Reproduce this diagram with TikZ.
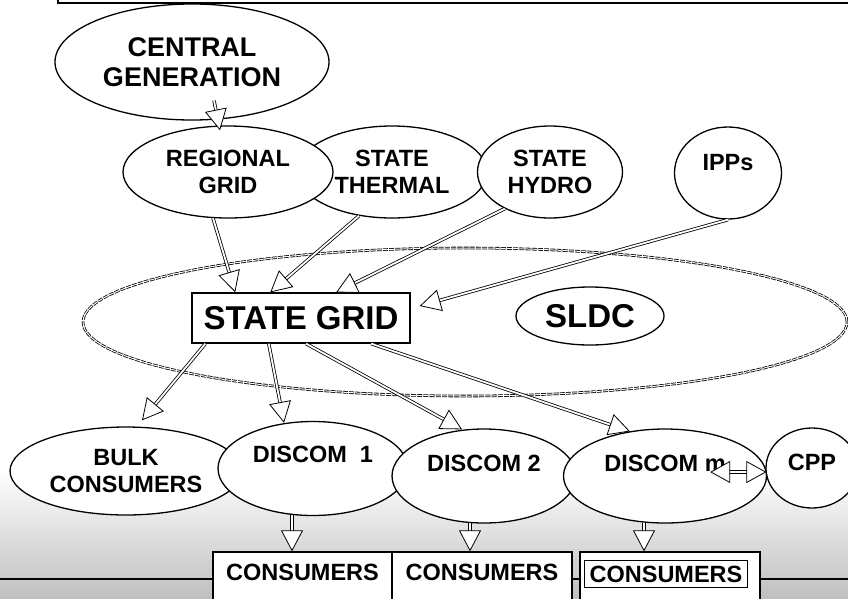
\documentclass[tikz,border=0pt]{standalone}
\usepackage{fontspec}
\setmainfont{Liberation Sans}
\usetikzlibrary{shapes.geometric, arrows.meta, calc}

\begin{document}
\begin{tikzpicture}[
    x=1pt, y=-1pt,
    bubble/.style={ellipse, draw=black, fill=white, line width=1.3pt, inner sep=0pt, align=center, font=\fontsize{23.5}{27}\selectfont\bfseries},
    bigbubble/.style={bubble, font=\fontsize{27}{30}\selectfont\bfseries},
    gridbox/.style={rectangle, draw=black, fill=white, line width=1.3pt, minimum width=218pt, minimum height=50pt, font=\fontsize{33}{38}\selectfont\bfseries},
    consbox/.style={rectangle, draw=black, fill=white, line width=1.3pt, minimum height=52pt, text depth=12pt, font=\fontsize{23.5}{27}\selectfont\bfseries},
    area/.style={ellipse, draw=black, line width=0.8pt, double=white, double distance=1pt, dash pattern=on 5pt off 1.2pt, minimum width=764pt, minimum height=148pt},
    arrow/.style={draw=black, line width=0.8pt, double=white, double distance=1.8pt, -{Triangle[length=21pt, width=22pt, fill=white, line width=0.8pt]}},
    twoway/.style={arrow, {Triangle[length=20pt, width=22pt, fill=white, line width=0.8pt]}-{Triangle[length=20pt, width=22pt, fill=white, line width=0.8pt]}}
]
\useasboundingbox (0,0) rectangle (848,598);
\clip (0,0) rectangle (848,598);

% Backdrop
\fill[top color=white, bottom color=black!25] (0,470) rectangle (848,598);
\draw[line width=1.2pt] (58,-2) -- (58,3) -- (850,3);
\draw[line width=1.5pt] (-2,579) -- (850,579);

% Generation
\node[bigbubble, minimum width=274pt, minimum height=116pt] (cg) at (192,62) {CENTRAL\\GENERATION};
\node[bubble, minimum width=190pt, minimum height=92pt] (st) at (392,172) {STATE\\THERMAL};
\node[bubble, minimum width=210pt, minimum height=92pt] (rg) at (228,172) {REGIONAL\\GRID};
\node[bubble, minimum width=145pt, minimum height=92pt] (sh) at (550,172) {STATE\\HYDRO};
\node[bubble, minimum width=107pt, minimum height=92pt, text depth=22pt] (ipp) at (728,173) {IPPs};

% State level
\node[area] (sys) at (465,322) {};
\node[gridbox] (sg) at (301,318) {STATE GRID};
\node[bubble, minimum width=148pt, minimum height=58pt, font=\fontsize{33}{38}\selectfont\bfseries] (sldc) at (590,316) {SLDC};

% Distribution
\node[bubble, minimum width=232pt, minimum height=88pt] (bulk) at (126,471) {BULK\\CONSUMERS};
\node[bubble, minimum width=190pt, minimum height=94pt, text depth=29pt] (d1) at (313,468.5) {DISCOM\ \ 1};
\node[bubble, minimum width=184pt, minimum height=94pt, text depth=26pt] (d2) at (484,476) {DISCOM 2};
\node[bubble, minimum width=203pt, minimum height=94pt, text depth=26pt] (dm) at (665,476) {DISCOM m};
\node[bubble, minimum width=92pt, minimum height=80pt, text depth=12pt] (cpp) at (812,468) {CPP};

% Consumers
\node[consbox, minimum width=179pt] (c1) at (302.5,578) {CONSUMERS};
\node[consbox, minimum width=180pt] (c2) at (482,578) {CONSUMERS};
\node[consbox, minimum width=180pt] (c3) at (670,578) {};
\node[draw=black, line width=0.6pt, inner xsep=5pt, inner ysep=5pt, text height=17pt, text depth=0pt, font=\fontsize{23.5}{27}\selectfont\bfseries] (c3t) at (666,573.5) {CONSUMERS};

% Arrows
\draw[arrow] ($(cg.south)+(22,-20)$) -- ($(rg.north)+(-8,5)$);
\draw[arrow] (rg.-108) -- ($(sg.north west)!0.2!(sg.north east)$);
\draw[arrow] (st.-127) -- ($(sg.north west)!0.36!(sg.north east)$);
\draw[arrow] (sh.-141) -- ($(sg.north west)!0.66!(sg.north east)$);
\draw[arrow] (ipp.south) -- ($(sg.east)+(9,-12)$);
\draw[arrow] ($(sg.south west)!0.064!(sg.south east)$) -- ($(bulk.north)+(16,-6)$);
\draw[arrow] ($(sg.south west)!0.353!(sg.south east)$) -- ($(d1.north)+(-29,2)$);
\draw[arrow] ($(sg.south west)!0.523!(sg.south east)$) -- ($(d2.north)+(-22,1)$);
\draw[arrow] ($(sg.south west)!0.82!(sg.south east)$) -- ($(dm.north)+(-35,3)$);
\draw[arrow] ($(d1.south)+(-21,-1)$) -- ($(c1.north)+(-10.5,0)$);
\draw[arrow] ($(d2.south)+(-14,-1)$) -- ($(c2.north)+(-12,0)$);
\draw[arrow] ($(dm.south)+(-21,-1)$) -- ($(c3.north)+(-26,0)$);
\draw[twoway] ($(dm.east)+(-57,-4)$) -- ($(cpp.west)+(1,4)$);

\end{tikzpicture}
\end{document}
